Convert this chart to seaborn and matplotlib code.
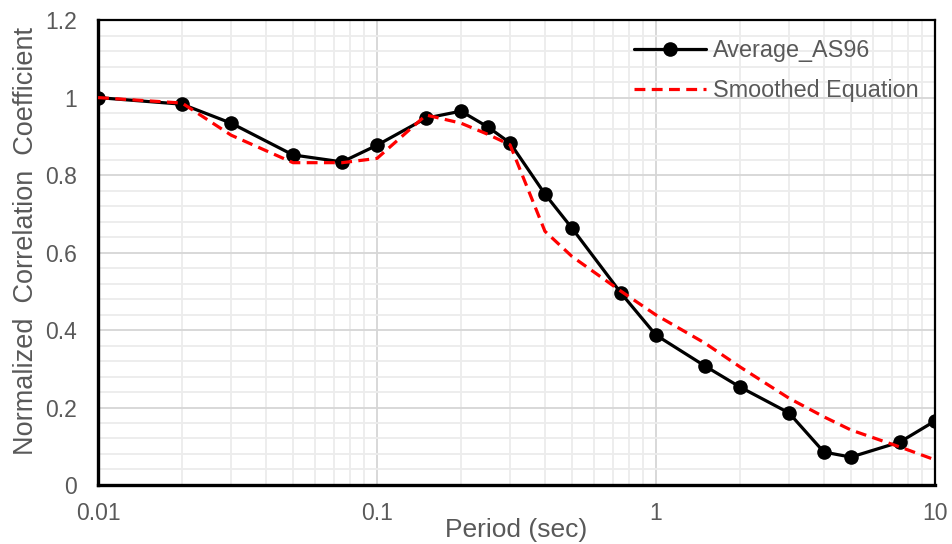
import numpy as np
import pandas as pd
import matplotlib
matplotlib.use("Agg")
import matplotlib.pyplot as plt
from matplotlib.ticker import LogLocator, MultipleLocator, FixedLocator, FixedFormatter, NullFormatter
import seaborn as sns

# Spectral periods (sec)
period = [0.01, 0.02, 0.03, 0.05, 0.075, 0.1, 0.15, 0.2, 0.25, 0.3,
          0.4, 0.5, 0.75, 1.0, 1.5, 2.0, 3.0, 4.0, 5.0, 7.5, 10.0]

# Average normalized correlation coefficient (AS96)
average_as96 = [1.000, 0.983, 0.934, 0.852, 0.834, 0.877, 0.947, 0.965, 0.924, 0.883,
                0.751, 0.663, 0.495, 0.387, 0.307, 0.253, 0.186, 0.085, 0.072, 0.111, 0.165]

# Smoothed equation evaluated at the same periods
smoothed = [1.000, 0.986, 0.903, 0.832, 0.832, 0.843, 0.955, 0.934, 0.905, 0.878,
            0.655, 0.590, 0.500, 0.439, 0.366, 0.305, 0.224, 0.176, 0.142, 0.098, 0.065]

x_ticks = [0.01, 0.1, 1, 10]
x_tick_labels = ["0.01", "0.1", "1", "10"]
y_ticks = [0, 0.2, 0.4, 0.6, 0.8, 1.0, 1.2]
y_tick_labels = ["0", "0.2", "0.4", "0.6", "0.8", "1", "1.2"]

label_avg = "Average_AS96"
label_smooth = "Smoothed Equation"

df_avg = pd.DataFrame({"Period": period, "Value": average_as96})
df_smooth = pd.DataFrame({"Period": period, "Value": smoothed})

sns.set_theme(style="white")
plt.rcParams["font.family"] = ["Liberation Sans", "DejaVu Sans"]

text_color = "#595959"

fig = plt.figure(figsize=(9.52, 5.44), dpi=100)
ax = fig.add_axes([0.103, 0.1085, 0.879, 0.8545])

sns.lineplot(data=df_avg, x="Period", y="Value", ax=ax, color="black",
             linewidth=2.3, marker="o", markersize=10.5, markeredgewidth=0,
             estimator=None, sort=False, label=label_avg, zorder=3)
sns.lineplot(data=df_smooth, x="Period", y="Value", ax=ax, color="#ff0000",
             linewidth=2.3, dashes=False, estimator=None, sort=False,
             label=label_smooth, zorder=4)
ax.lines[-1].set_dashes((3.4, 2.0))

ax.set_xscale("log")
ax.set_xlim(0.01, 10)
ax.set_ylim(0, 1.2)

ax.xaxis.set_major_locator(FixedLocator(x_ticks))
ax.xaxis.set_major_formatter(FixedFormatter(x_tick_labels))
ax.xaxis.set_minor_locator(LogLocator(base=10, subs=np.arange(2, 10)))
ax.xaxis.set_minor_formatter(NullFormatter())
ax.yaxis.set_major_locator(FixedLocator(y_ticks))
ax.yaxis.set_major_formatter(FixedFormatter(y_tick_labels))
ax.yaxis.set_minor_locator(MultipleLocator(0.04))

ax.grid(which="major", color="#d6d6d6", linewidth=1.3, zorder=0)
ax.grid(which="minor", color="#ececec", linewidth=1.3, zorder=0)
ax.set_axisbelow(True)

ax.tick_params(axis="both", which="both", length=0, labelsize=16.5, colors=text_color)
ax.tick_params(axis="x", pad=12)
ax.tick_params(axis="y", pad=15)

for side in ["left", "bottom"]:
    ax.spines[side].set_color("black")
    ax.spines[side].set_linewidth(2.4)
for side in ["top", "right"]:
    ax.spines[side].set_color("black")
    ax.spines[side].set_linewidth(1.6)

ax.set_xlabel("Period (sec)", fontsize=19, color=text_color, labelpad=-5)
ax.set_ylabel("Normalized  Correlation  Coefficient", fontsize=19.5, color=text_color)
ax.yaxis.set_label_coords(-0.07, 0.525)

leg = ax.legend(loc="upper right", frameon=False, fontsize=16.8, handlelength=3.1,
                handletextpad=0.3, labelspacing=0.75, borderaxespad=0.3,
                bbox_to_anchor=(1.0, 0.995))
for t in leg.get_texts():
    t.set_color(text_color)

fig.savefig("out.png", dpi=100)
